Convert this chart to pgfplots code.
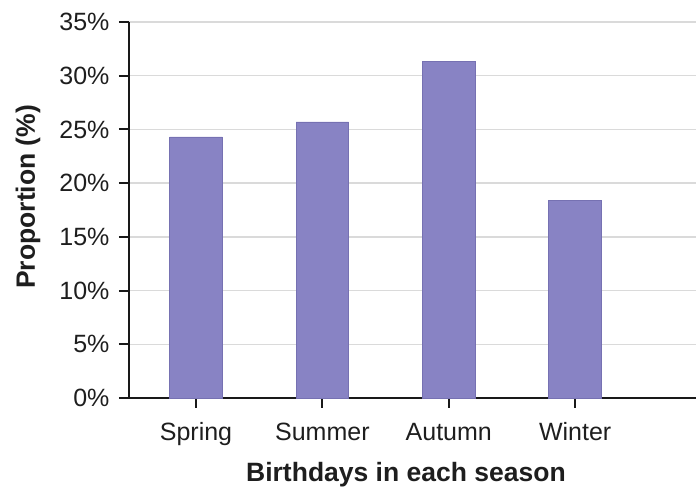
\documentclass[border=0pt]{standalone}
\usepackage{fontspec}
\setmainfont{Liberation Sans}
\usepackage{pgfplots}
\pgfplotsset{compat=1.18}
\definecolor{barfill}{RGB}{136,131,196}
\definecolor{baredge}{RGB}{118,113,178}
\definecolor{gridc}{RGB}{218,218,218}
\definecolor{axisc}{RGB}{25,25,25}
\definecolor{textc}{RGB}{30,30,30}
\begin{document}
\begin{tikzpicture}
\begin{axis}[
  name=ax,
  scale only axis,
  width=567pt, height=376pt,
  xmin=-0.53, xmax=3.956,
  ymin=0, ymax=35,
  axis lines*=left,
  axis line style={draw=axisc, line width=2.2pt, -},
  xtick={0,1,2,3},
  xticklabels={Spring,Summer,Autumn,Winter},
  ytick={0,5,10,15,20,25,30,35},
  yticklabels={0\%,5\%,10\%,15\%,20\%,25\%,30\%,35\%},
  xtick pos=bottom, ytick pos=left,
  xmajorticks=true,
  tick align=outside,
  major tick length=10pt,
  tick style={draw=axisc, line width=2pt},
  ymajorgrids,
  grid style={draw=gridc, line width=1.5pt},
  tick label style={font=\fontsize{25}{28}\selectfont, text=textc},
  xticklabel style={anchor=base, yshift=-33pt},
  yticklabel style={anchor=east, xshift=-6pt},
  every axis x label/.style={at={(axis description cs:0.4885,-0.2234)}, anchor=base, font=\fontsize{26.5}{30}\selectfont\bfseries, text=textc},
  every axis y label/.style={at={(axis description cs:-0.178,0.535)}, anchor=center, rotate=90, font=\fontsize{26.5}{30}\selectfont\bfseries, text=textc},
  xlabel={Birthdays in each season},
  ylabel={Proportion (\%)},
  clip=false,
]
\addplot[ybar, bar width=52.7pt, fill=barfill, draw=baredge, line width=0.8pt] coordinates {
  (0,24.3) (1,25.7) (2,31.3) (3,18.4)
};
\end{axis}
\pgfresetboundingbox
\path[use as bounding box] ([xshift=-129pt,yshift=-93pt]ax.south west) rectangle ([yshift=22pt]ax.north east);
\end{tikzpicture}
\end{document}
